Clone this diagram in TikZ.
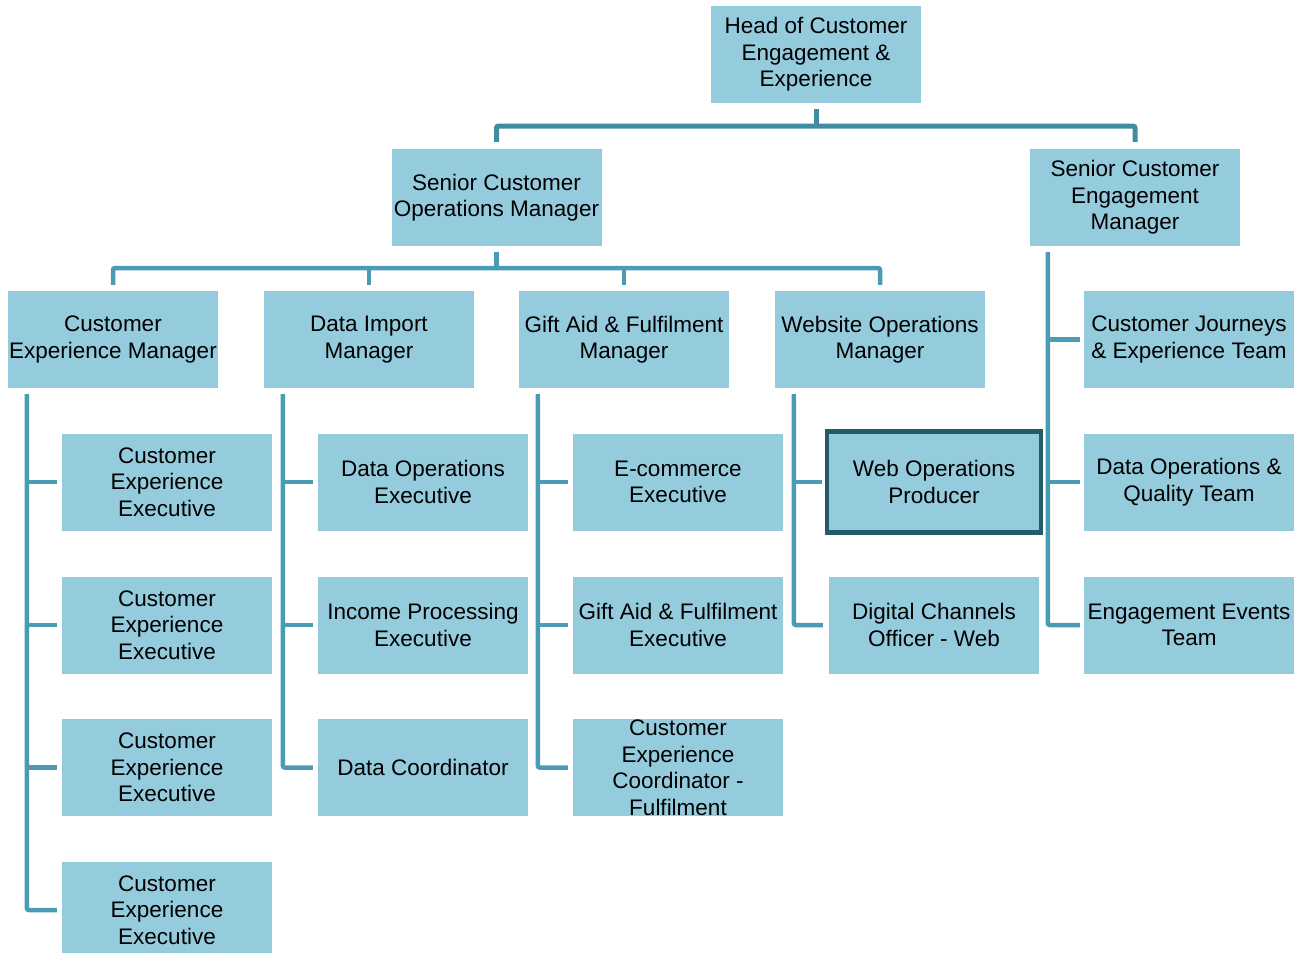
\documentclass[tikz,border=0pt]{standalone}
\usepackage{fontspec}
\setmainfont{Liberation Sans}
\definecolor{boxc}{HTML}{94CCDD}
\definecolor{topline}{HTML}{3E8DA2}
\definecolor{lowline}{HTML}{4A9CB5}
\definecolor{hiline}{HTML}{245A6A}
\begin{document}
\begin{tikzpicture}[x=1pt,y=-1pt,
  box/.style={fill=boxc, minimum width=210pt, minimum height=97pt, inner sep=0pt, align=center,
    font=\fontsize{22.5}{26.5}\selectfont},
  hibox/.style={box, draw=hiline, line width=4.5pt, minimum width=214pt, minimum height=101pt},
  conn/.style={draw=topline, line width=5pt, rounded corners=2pt},
  lconn/.style={draw=lowline, line width=4.5pt, rounded corners=2pt}]
\useasboundingbox (0,0) rectangle (1304,953);
% top
\node[box] (head) at (816,54.5) {Head of Customer\\Engagement \&\\Experience};
\node[box] (so) at (496.5,197.5) {Senior Customer\\Operations Manager};
\node[box] (se) at (1135,197.5) {Senior Customer\\Engagement\\Manager};
% row 2
\node[box] (cem) at (113,339.5) {Customer\\Experience Manager};
\node[box] (dim) at (369,339.5) {Data Import\\Manager};
\node[box] (gaf) at (624,339.5) {Gift Aid \& Fulfilment\\Manager};
\node[box] (wom) at (880,339.5) {Website Operations\\Manager};
% right children
\node[box] (r1) at (1189,339.5) {Customer Journeys\\\& Experience Team};
\node[box] (r2) at (1189,482) {Data Operations \&\\Quality Team};
\node[box] (r3) at (1189,625) {Engagement Events\\Team};
% CEM children
\node[box] (c1) at (167,482) {Customer\\Experience\\Executive};
\node[box] (c2) at (167,625) {Customer\\Experience\\Executive};
\node[box] (c3) at (167,767.5) {Customer\\Experience\\Executive};
\node[box] (c4) at (167,910) {Customer\\Experience\\Executive};
% DIM children
\node[box] (d1) at (423,482) {Data Operations\\Executive};
\node[box] (d2) at (423,625) {Income Processing\\Executive};
\node[box] (d3) at (423,767.5) {Data Coordinator};
% GAF children
\node[box] (g1) at (678,482) {E-commerce\\Executive};
\node[box] (g2) at (678,625) {Gift Aid \& Fulfilment\\Executive};
\node[box] (g3) at (678,767.5) {Customer\\Experience\\Coordinator -\\Fulfilment};
% WOM children
\node[hibox] (w1) at (934,482) {Web Operations\\Producer};
\node[box] (w2) at (934,625) {Digital Channels\\Officer - Web};
% top bus
\coordinate (bus1) at (816,126);
\draw[conn] ([yshift=-6pt]head.south) -- (bus1);
\draw[conn] ([yshift=7pt]so.north) |- (bus1) -| ([yshift=7pt]se.north);
% second bus
\coordinate (bus2) at (496.5,268);
\draw[lconn] ([yshift=-6pt]so.south) -- (bus2);
\draw[lconn] ([yshift=6pt]cem.north) |- (bus2) -| ([yshift=6pt]wom.north);
\draw[lconn] ([yshift=6pt]dim.north) -- (dim.north |- bus2);
\draw[lconn] ([yshift=6pt]gaf.north) -- (gaf.north |- bus2);
% right branch
\coordinate (seT) at ([xshift=18pt,yshift=-6pt]se.south west);
\draw[lconn] (seT) |- ([xshift=-4pt]r3.west);
\draw[lconn] (seT |- r1.west) -- ([xshift=-4pt]r1.west);
\draw[lconn] (seT |- r2.west) -- ([xshift=-4pt]r2.west);
% CEM branch
\coordinate (cemT) at ([xshift=19pt,yshift=-6pt]cem.south west);
\draw[lconn] (cemT) |- ([xshift=-5pt]c4.west);
\foreach \n in {c1,c2,c3} \draw[lconn] (cemT |- \n.west) -- ([xshift=-5pt]\n.west);
% DIM branch
\coordinate (dimT) at ([xshift=19pt,yshift=-6pt]dim.south west);
\draw[lconn] (dimT) |- ([xshift=-5pt]d3.west);
\foreach \n in {d1,d2} \draw[lconn] (dimT |- \n.west) -- ([xshift=-5pt]\n.west);
% GAF branch
\coordinate (gafT) at ([xshift=19pt,yshift=-6pt]gaf.south west);
\draw[lconn] (gafT) |- ([xshift=-5pt]g3.west);
\foreach \n in {g1,g2} \draw[lconn] (gafT |- \n.west) -- ([xshift=-5pt]\n.west);
% WOM branch
\coordinate (womT) at ([xshift=19pt,yshift=-6pt]wom.south west);
\draw[lconn] (womT) |- ([xshift=-6pt]w2.west);
\draw[lconn] (womT |- w1.west) -- ([xshift=-3pt]w1.west);
\end{tikzpicture}
\end{document}
